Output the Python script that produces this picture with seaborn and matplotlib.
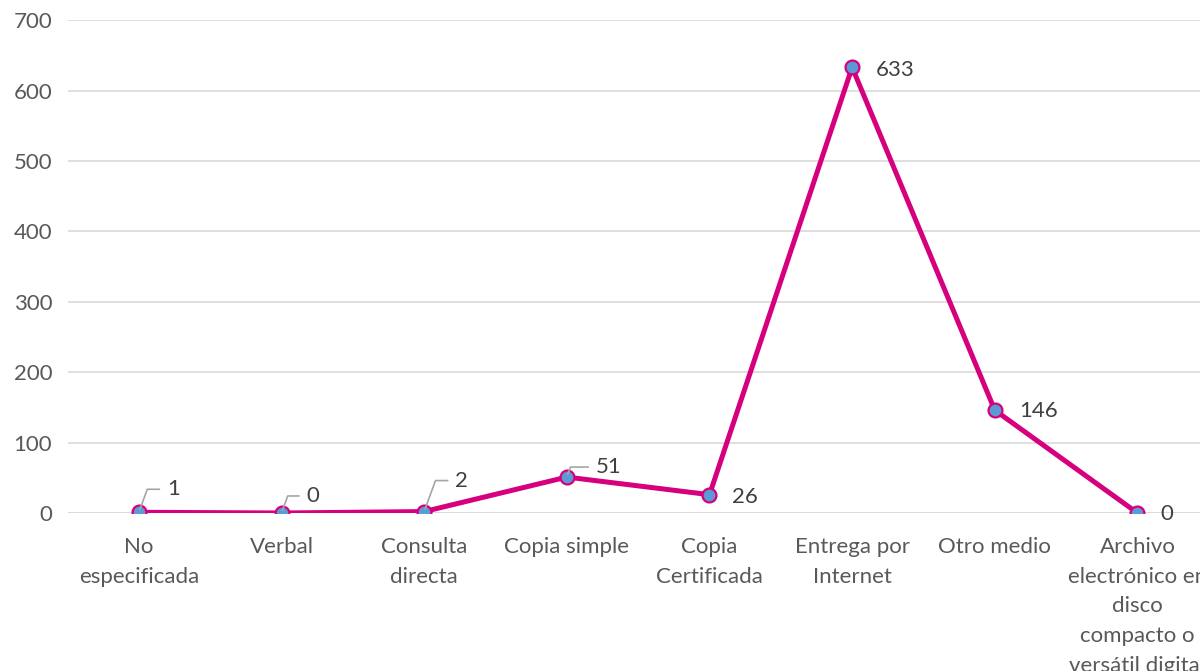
import matplotlib
matplotlib.use("Agg")
import matplotlib.pyplot as plt
import seaborn as sns
import pandas as pd

categories = ["No\nespecificada", "Verbal", "Consulta\ndirecta", "Copia simple",
              "Copia\nCertificada", "Entrega por\nInternet", "Otro medio",
              "Archivo\nelectrónico en\ndisco\ncompacto o\nversátil digital"]
values = [1, 0, 2, 51, 26, 633, 146, 0]
y_ticks = [0, 100, 200, 300, 400, 500, 600, 700]

# label offsets in pixels (dx, dy) and whether a leader line is drawn
label_offsets = [(28, 23), (25, 17), (31, 31), (29, 10), (23, -2), (24, -3), (24, -1), (23, -1)]
leaders = [True, True, True, True, False, False, False, False]

sns.set_theme(style="white")
plt.rcParams['font.family'] = ['Lato', 'DejaVu Sans']

df = pd.DataFrame({"cat": range(len(categories)), "val": values})

fig = plt.figure(figsize=(12, 6.71), dpi=100)
ax = fig.add_axes([0.0563, 0.2355, 0.951, 0.7345])

LINE = "#D6007F"
sns.lineplot(data=df, x="cat", y="val", ax=ax, color=LINE, linewidth=3.6,
             marker="o", markersize=10, markerfacecolor="#5B9BD5",
             markeredgecolor=LINE, markeredgewidth=1.6, zorder=3)

ax.set_xlim(-0.5, len(categories) - 0.5)
ax.set_ylim(0, 700)
ax.set_yticks(y_ticks)
ax.set_yticklabels([str(t) for t in y_ticks])
ax.set_xticks(range(len(categories)))
ax.set_xticklabels(categories, linespacing=1.62)
ax.grid(axis="y", color="#D9D9D9", linewidth=1.2, zorder=0)
ax.grid(axis="x", visible=False)
for s in ax.spines.values():
    s.set_visible(False)
ax.axhline(0, color="#D9D9D9", linewidth=1.2, zorder=1)
ax.tick_params(axis="x", length=0, pad=17, labelsize=16, labelcolor="#595959")
ax.tick_params(axis="y", length=0, pad=11, labelsize=16, labelcolor="#595959")
ax.set_xlabel("")
ax.set_ylabel("")

for i, v in enumerate(values):
    dx, dy = label_offsets[i]
    kw = {}
    if leaders[i]:
        kw["arrowprops"] = dict(arrowstyle="-", color="#A6A6A6", lw=1.2,
                                connectionstyle="angle,angleA=180,angleB=70,rad=0",
                                shrinkA=3, shrinkB=2)
    ax.annotate(str(v), xy=(i, v), xytext=(dx, dy), textcoords="offset pixels",
                ha="left", va="center", fontsize=16, color="#404040", **kw)

fig.savefig("out.png", dpi=100)
